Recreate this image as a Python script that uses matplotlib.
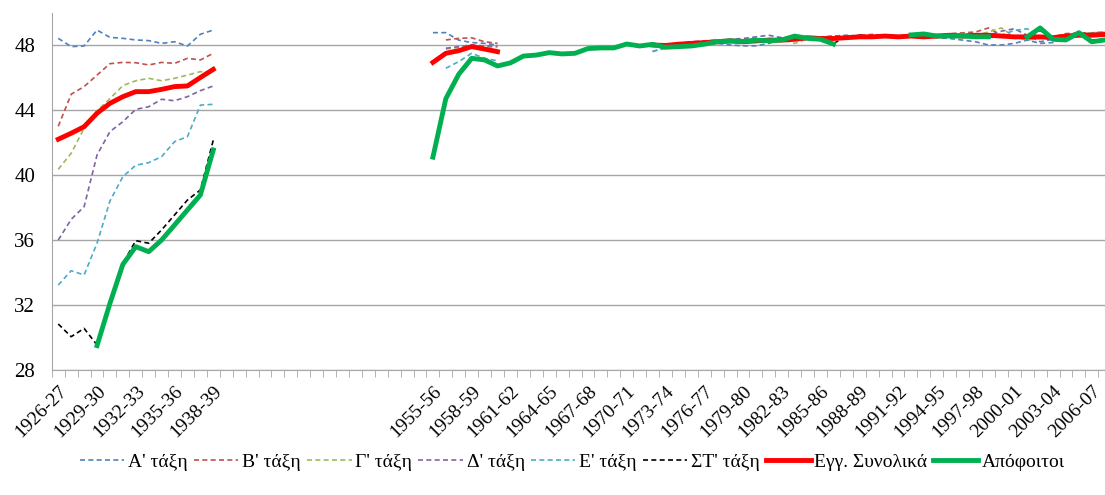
import numpy as np
import matplotlib
matplotlib.use("Agg")
import matplotlib.pyplot as plt

plt.rcParams['font.family'] = ['Liberation Serif', 'DejaVu Serif']

# school years 1926-27 ... 2007-08 (category axis)
years = ["%d-%02d" % (y, (y + 1) % 100) for y in range(1926, 2008)]
shown = ["1926-27", "1929-30", "1932-33", "1935-36", "1938-39",
         "1955-56", "1958-59", "1961-62", "1964-65", "1967-68", "1970-71",
         "1973-74", "1976-77", "1979-80", "1982-83", "1985-86", "1988-89",
         "1991-92", "1994-95", "1997-98", "2000-01", "2003-04", "2006-07"]

# period 1926-27 .. 1938-39
a_1926 = [48.41, 47.9, 47.94, 48.92, 48.47, 48.41, 48.31, 48.27, 48.1, 48.2, 47.94, 48.66, 48.92]
b_1926 = [43.0, 44.97, 45.44, 46.15, 46.85, 46.93, 46.91, 46.77, 46.93, 46.87, 47.18, 47.08, 47.49]
g_1926 = [40.35, 41.34, 42.87, 43.95, 44.7, 45.5, 45.8, 45.95, 45.8, 45.95, 46.15, 46.36, 46.26]
d_1926 = [36.0, 37.27, 38.05, 41.23, 42.67, 43.28, 44.04, 44.2, 44.66, 44.57, 44.82, 45.19, 45.48]
e_1926 = [33.23, 34.11, 33.85, 35.8, 38.4, 39.9, 40.6, 40.76, 41.13, 42.05, 42.36, 44.3, 44.35]
st_1926 = [30.83, 30.05, 30.56, 29.54, 32.2, 34.56, 35.96, 35.8, 36.62, 37.54, 38.46, 39.08, 42.15]
egg_1926 = [42.2, 42.57, 42.97, 43.8, 44.41, 44.82, 45.13, 45.13, 45.27, 45.44, 45.48, 46.0, 46.5]
apo_1926 = [None, None, None, 29.5, 32.1, 34.5, 35.59, 35.28, 36.0, 36.92, 37.85, 38.77, 41.54]

# period 1955-56 .. 1960-61
a_1955 = [48.76, 48.76, 48.3, 48.15, 48.1, 48.0]
b_1955 = [None, 48.31, 48.41, 48.44, 48.2, 48.1]
g_1955 = [None, 47.75, 47.85, 47.95, 47.9, 47.85]
d_1955 = [None, 47.8, 47.9, 48.0, 47.94, 47.94]
e_1955 = [None, 46.57, 46.98, 47.49, 47.18, 47.03]
st_1955 = [None, 44.75, 46.25, 47.2, 47.1, 46.75]
egg_1955 = [46.93, 47.49, 47.65, 47.9, 47.75, 47.59]

# graduates 1955-56 .. 2007-08
apo_1955 = [41.1, 44.7, 46.2, 47.18, 47.08, 46.71, 46.9, 47.32, 47.38, 47.53,
            47.45, 47.49, 47.78, 47.82, 47.82, 48.06, 47.94, 48.04, 47.86, 47.9,
            47.94, 48.05, 48.2, 48.26, 48.22, 48.3, 48.26, 48.31, 48.55, 48.41,
            48.35, 48.06, None, None, None, None, None, 48.62, 48.68, 48.55,
            48.55, 48.55, 48.51, 48.51, None, None, 48.5, 49.05, 48.35, 48.31,
            48.76, 48.2, 48.31]

# period 1972-73 .. 2007-08
a_1972 = [47.6, 47.85, 48.0, 48.1, 48.05, 48.1, 48.0, 47.95, 47.95, 48.1,
          48.3, 48.4, 48.3, 48.45, 48.4, 48.45, 48.5, 48.6, 48.55, 48.5,
          48.55, 48.5, 48.45, 48.4, 48.3, 48.2, 48.0, 48.0, 48.1, 48.3,
          48.1, 48.15, 48.5, 48.6, 48.7, 48.7]
b_1972 = [48.0, 48.0, 48.1, 48.15, 48.2, 48.25, 48.2, 48.3, 48.35, 48.4,
          48.35, 48.45, 48.5, 48.45, 48.55, 48.5, 48.6, 48.65, 48.6, 48.55,
          48.6, 48.55, 48.6, 48.7, 48.75, 48.8, 49.05, 48.6, 48.4, 48.5,
          48.45, 48.5, 48.7, 48.75, 48.75, 48.8]
g_1972 = [47.9, 47.95, 48.0, 48.1, 48.2, 48.15, 48.25, 48.3, 48.2, 48.3,
          48.35, 48.1, 48.4, 48.5, 48.45, 48.5, 48.55, 48.5, 48.6, 48.55,
          48.6, 48.5, 48.55, 48.65, 48.7, 48.6, 48.8, 49.05, 48.5, 48.3,
          48.4, 48.5, 48.6, 48.7, 48.75, 48.8]
d_1972 = [47.95, 48.0, 48.1, 48.2, 48.25, 48.3, 48.35, 48.4, 48.5, 48.6,
          48.45, 48.5, 48.45, 48.5, 48.55, 48.6, 48.55, 48.5, 48.55, 48.6,
          48.55, 48.6, 48.5, 48.55, 48.6, 48.7, 48.6, 48.85, 49.0, 48.6,
          48.2, 48.35, 48.6, 48.7, 48.7, 48.75]
e_1972 = [47.6, 47.8, 47.9, 48.05, 48.1, 48.2, 48.15, 48.25, 48.3, 48.2,
          48.3, 48.4, 48.35, 48.45, 48.4, 48.5, 48.45, 48.55, 48.5, 48.45,
          48.5, 48.55, 48.5, 48.6, 48.55, 48.5, 48.4, 48.6, 48.9, 49.0,
          48.5, 48.3, 48.4, 48.65, 48.55, 48.6]
st_1972 = [48.0, 47.9, 47.95, 48.0, 48.1, 48.2, 48.3, 48.25, 48.3, 48.3,
           48.35, 48.55, 48.45, 48.4, 48.1, 48.5, 48.6, 48.55, 48.6, 48.55,
           48.6, 48.65, 48.55, 48.55, 48.5, 48.55, 48.5, 48.6, 48.55, 48.5,
           48.9, 48.4, 48.35, 48.7, 48.3, 48.35]
egg_1972 = [48.0, 47.97, 48.05, 48.1, 48.15, 48.2, 48.25, 48.2, 48.25, 48.3,
            48.3, 48.35, 48.45, 48.4, 48.4, 48.45, 48.5, 48.5, 48.55, 48.5,
            48.55, 48.5, 48.55, 48.6, 48.55, 48.6, 48.6, 48.55, 48.5, 48.5,
            48.5, 48.45, 48.55, 48.6, 48.6, 48.65]

labels = ["Α' τάξη", "Β' τάξη", "Γ' τάξη", "Δ' τάξη", "Ε' τάξη", "ΣΤ' τάξη",
          "Εγγ. Συνολικά", "Απόφοιτοι"]
colors = ["#4F81BD", "#C0504D", "#9BBB59", "#8064A2", "#4BACC6", "#000000",
          "#FF0000", "#00B050"]


def build(*parts):
    # parts: (first school year, values)
    arr = np.full(len(years), np.nan)
    for start, vals in parts:
        i = years.index(start)
        assert i + len(vals) <= len(years)
        arr[i:i + len(vals)] = [np.nan if v is None else v for v in vals]
    return arr


series = [
    build(("1926-27", a_1926), ("1955-56", a_1955), ("1972-73", a_1972)),
    build(("1926-27", b_1926), ("1955-56", b_1955), ("1972-73", b_1972)),
    build(("1926-27", g_1926), ("1955-56", g_1955), ("1972-73", g_1972)),
    build(("1926-27", d_1926), ("1955-56", d_1955), ("1972-73", d_1972)),
    build(("1926-27", e_1926), ("1955-56", e_1955), ("1972-73", e_1972)),
    build(("1926-27", st_1926), ("1955-56", st_1955), ("1972-73", st_1972)),
    build(("1926-27", egg_1926), ("1955-56", egg_1955), ("1972-73", egg_1972)),
    build(("1926-27", apo_1926), ("1955-56", apo_1955)),
]

W, H = 1105, 495
fig = plt.figure(figsize=(W / 100, H / 100), dpi=100)
ax = fig.add_axes([51.8 / W, 125 / H, 1059.4 / W, 357.5 / H])

x = np.arange(len(years))
for k, (vals, lab, col) in enumerate(zip(series, labels, colors)):
    if k < 6:
        ax.plot(x, vals, color=col, lw=1.2, ls=(0, (3, 2)), label=lab)
    else:
        ax.plot(x, vals, color=col, lw=3.5, label=lab, solid_joinstyle='round')

ax.set_xlim(-0.5, len(years) - 0.5)
ax.set_ylim(28, 50)
ax.set_yticks([28, 32, 36, 40, 44, 48])
ax.yaxis.grid(True, color="#A6A6A6", lw=1)
ax.set_axisbelow(True)

pos = [years.index(s) for s in shown]
ax.set_xticks(pos)
ax.set_xticklabels(shown, rotation=45, ha='right', rotation_mode='anchor', fontsize=14)
ax.set_xticks(np.arange(-0.5, len(years)), minor=True)
ax.tick_params(axis='x', which='major', length=0, pad=9)
ax.tick_params(axis='x', which='minor', length=5, color="#A6A6A6", direction='out')
ax.tick_params(axis='y', length=0, labelsize=15, pad=12)

for s in ["top", "right"]:
    ax.spines[s].set_visible(False)
for s in ["left", "bottom"]:
    ax.spines[s].set_color("#A6A6A6")

fig.legend(loc='center', bbox_to_anchor=(0.518, 1 - 462 / H), ncol=8, frameon=False,
           fontsize=14, handlelength=2.3, handletextpad=0.2, columnspacing=0.3)

fig.savefig("out.png", dpi=100)
